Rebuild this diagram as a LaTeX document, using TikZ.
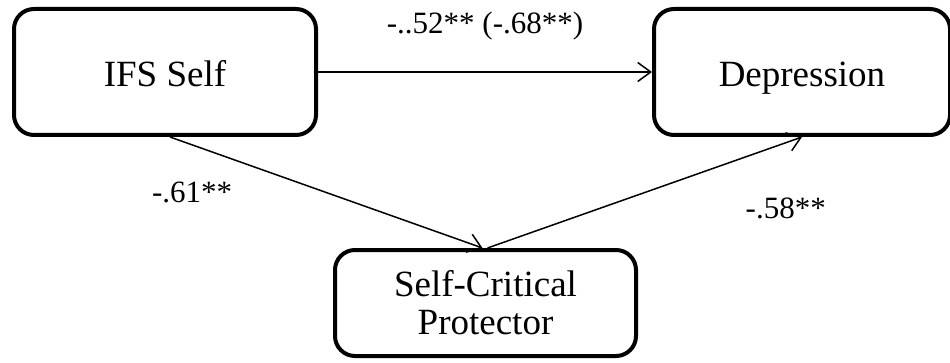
\documentclass[tikz,border=0pt]{standalone}
\usepackage{fontspec}
\setmainfont{Liberation Serif}
\usetikzlibrary{arrows.meta,positioning}
\tikzset{x=1pt,y=1pt,
	varbox/.style={
		draw,
		line width=4pt,
		rounded corners=20pt,
		align=center,
		font=\fontsize{37}{38}\selectfont
	},
	onerow/.style={
		text height=29pt,
		text depth=0pt
	},
	coef/.style={
		font=\fontsize{31}{36}\selectfont
	},
	every edge/.style={
		draw,
		->,>={Straight Barb[length=13pt,width=19pt]},
		line width=1.5pt
	}
}

\begin{document}
\begin{tikzpicture}
		\useasboundingbox (0,0) rectangle (950,362);
		\node[varbox, onerow, minimum width=302pt, minimum height=126pt] (ifs) at (165,290) {IFS Self};
		\node[varbox, onerow, minimum width=296pt, minimum height=126pt, right=334pt of ifs] (dep) {Depression};
		\node[varbox, minimum width=301pt, minimum height=106pt] (scp) at (485.5,59) {Self-Critical\\Protector};
		\draw (ifs) edge node[coef, above=28pt]{-..52** (-.68**)} (dep);
		\draw ([xshift=5pt]ifs.south) edge node[coef, left=90pt]{-.61**} ([xshift=-3pt]scp.north);
		\draw ([xshift=2pt]scp.north) edge node[coef, pos=0.7, below right=23pt and 34pt]{-.58**} ([xshift=0pt]dep.south);
	\end{tikzpicture}
\end{document}
